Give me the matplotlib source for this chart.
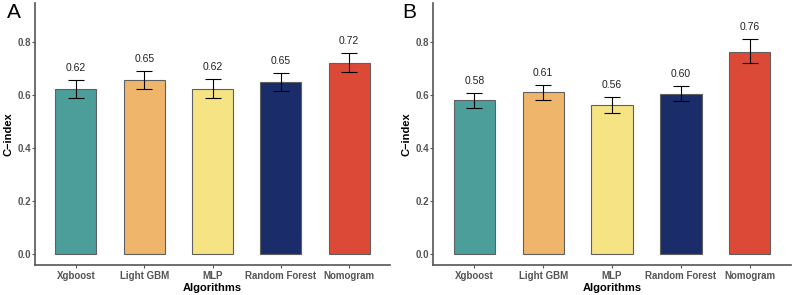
import matplotlib
matplotlib.use("Agg")
import matplotlib.pyplot as plt
import numpy as np

plt.rcParams['font.family'] = ['Liberation Sans', 'DejaVu Sans']

categories = ["Xgboost", "Light GBM", "MLP", "Random Forest", "Nomogram"]
colors = ["#4B9E9A", "#EFB56B", "#F5E384", "#1B2C6B", "#DC4A37"]

cindex_a = [0.620, 0.654, 0.623, 0.649, 0.720]
upper_a = [0.655, 0.688, 0.658, 0.682, 0.756]
lower_a = [0.586, 0.620, 0.586, 0.615, 0.685]
labels_a = ["0.62", "0.65", "0.62", "0.65", "0.72"]

cindex_b = [0.580, 0.610, 0.561, 0.604, 0.762]
upper_b = [0.608, 0.638, 0.590, 0.632, 0.809]
lower_b = [0.551, 0.581, 0.531, 0.575, 0.718]
labels_b = ["0.58", "0.61", "0.56", "0.60", "0.76"]

yticks = [0.0, 0.2, 0.4, 0.6, 0.8]

fig = plt.figure(figsize=(7.94, 2.95), dpi=100)
axA = fig.add_axes([35/794, 1-265/295, (390-35)/794, (265-3)/295])
axB = fig.add_axes([433/794, 1-265/295, (791-433)/794, (265-3)/295])

def draw(ax, vals, up, lo, labs, letter, letter_x):
    x = np.arange(len(categories))
    ax.bar(x, vals, width=0.6, color=colors, edgecolor="#606060", linewidth=0.8, zorder=2)
    v = np.array(vals)
    yerr = [v - np.array(lo), np.array(up) - v]
    ax.errorbar(x, vals, yerr=yerr, fmt='none', ecolor='black', elinewidth=0.8,
                capsize=5.5, capthick=0.8, zorder=3)
    for xi, u, t in zip(x, up, labs):
        ax.text(xi, u + 0.045, t, ha='center', va='center', fontsize=7.5, color='#222222')
    ax.set_xlim(-0.6, 4.6)
    ax.set_ylim(-0.04, 0.945)
    ax.set_xticks(x)
    ax.set_xticklabels(categories, fontsize=7, fontweight='bold', color='#555555')
    ax.set_yticks(yticks)
    ax.set_yticklabels([f"{t:.1f}" for t in yticks], fontsize=7, fontweight='bold', color='#555555')
    ax.set_xlabel("Algorithms", fontsize=8, fontweight='bold', labelpad=1)
    ax.set_ylabel("C\u2212index", fontsize=8, fontweight='bold', labelpad=3)
    for s in ['top', 'right']:
        ax.spines[s].set_visible(False)
    for s in ['left', 'bottom']:
        ax.spines[s].set_color('#555555')
        ax.spines[s].set_linewidth(1.2)
    ax.tick_params(axis='x', length=2.5, width=0.8, color='#555555', pad=2)
    ax.tick_params(axis='y', length=2, width=0.8, color='#555555', pad=1)
    fig.text(letter_x/794, 1-13/295, letter, fontsize=15, ha='left', va='center')

draw(axA, cindex_a, upper_a, lower_a, labels_a, "A", 7)
draw(axB, cindex_b, upper_b, lower_b, labels_b, "B", 402)

fig.savefig("out.png", dpi=100)
